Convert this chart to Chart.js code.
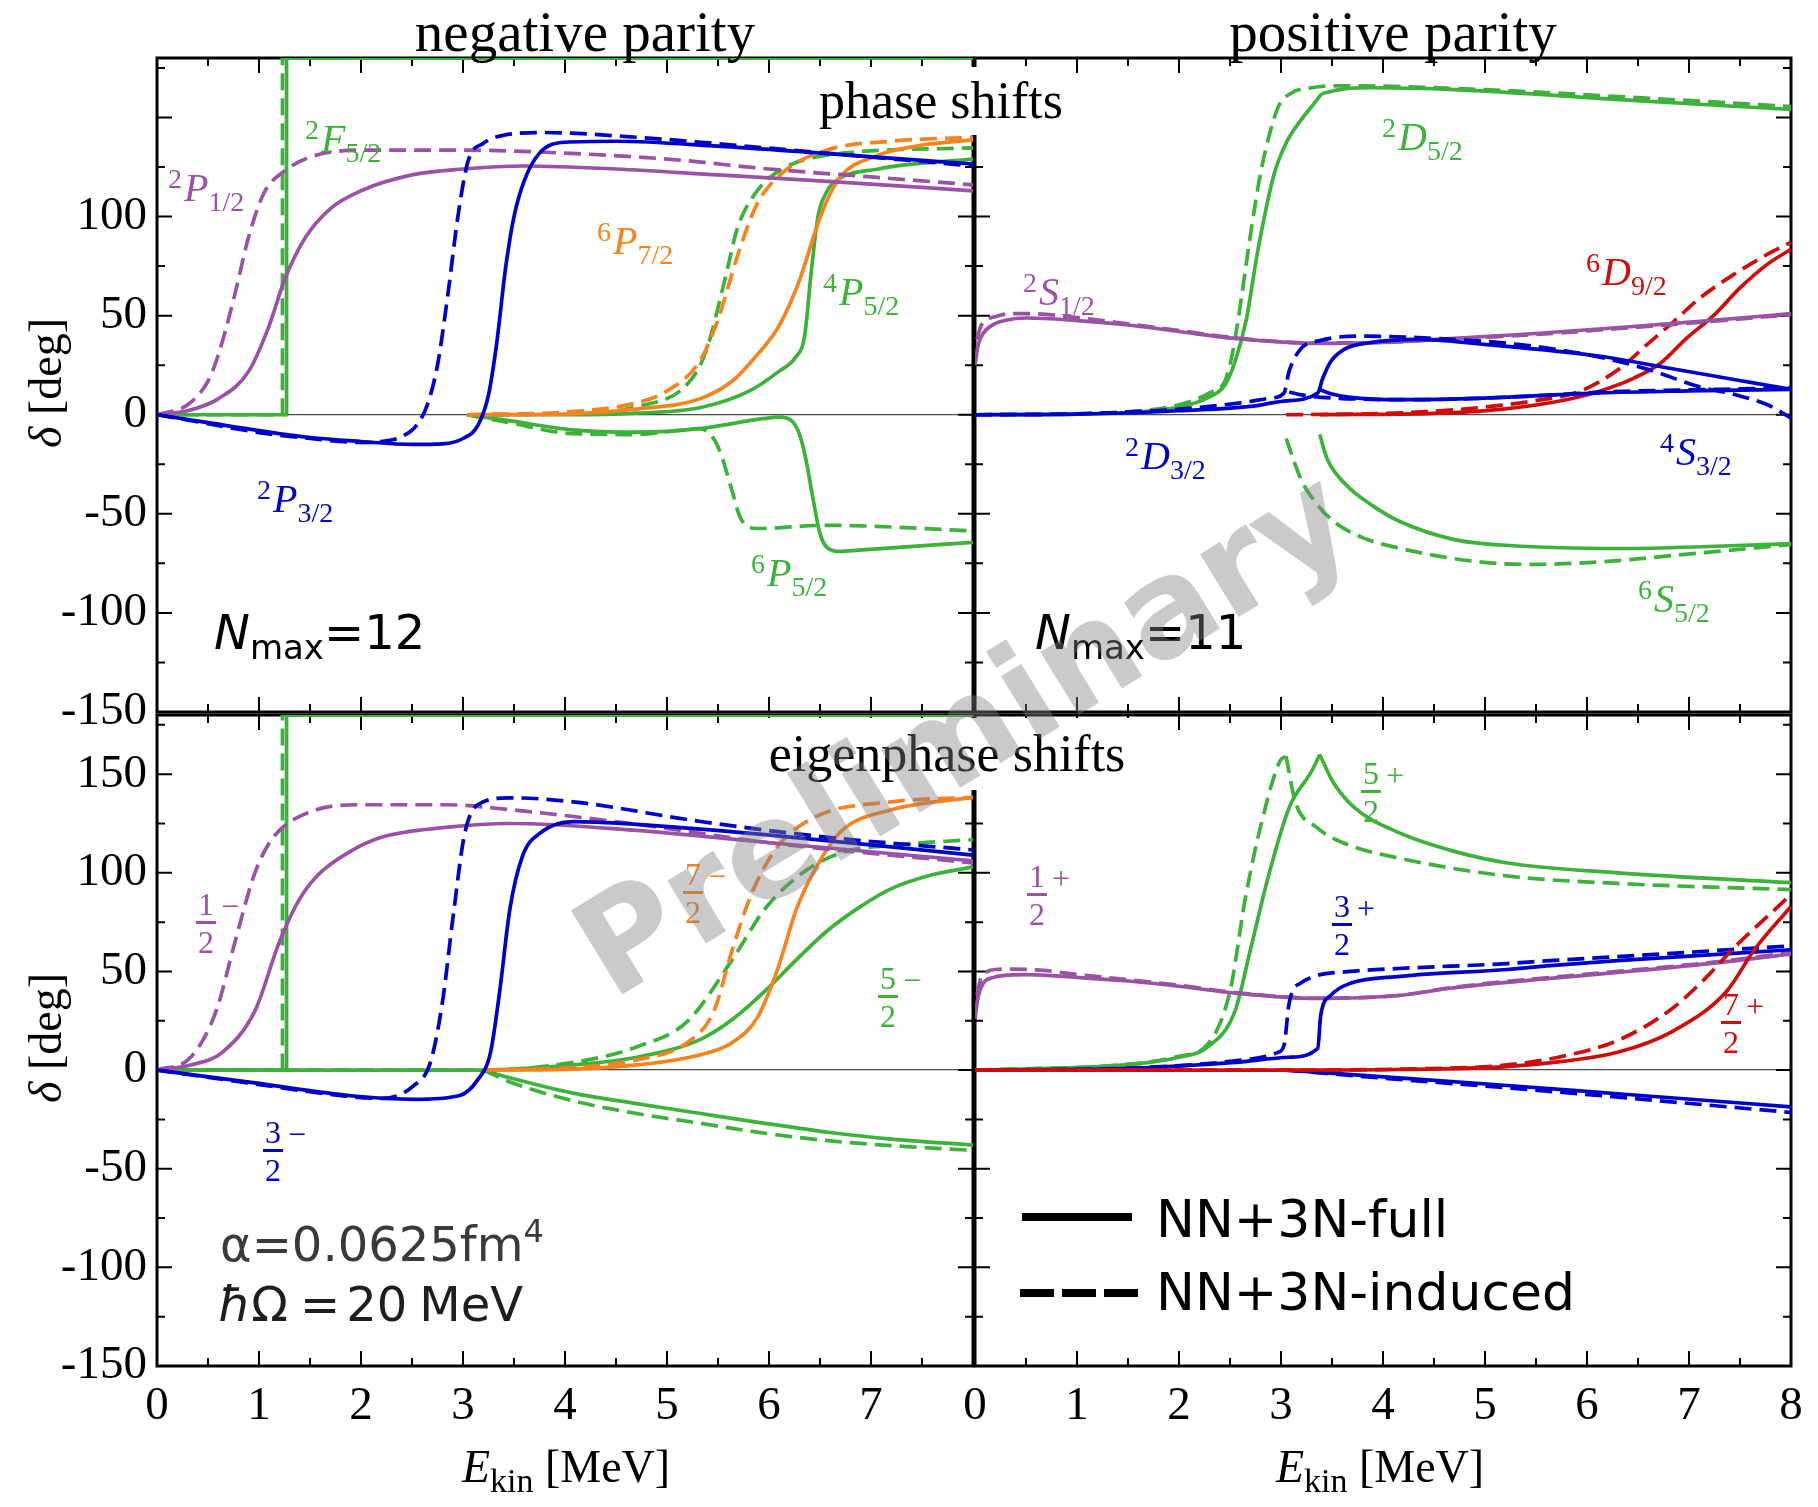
<!DOCTYPE html>
<html>
<head>
<meta charset="utf-8">
<script src="https://cdn.jsdelivr.net/npm/chart.js@4.4.1/dist/chart.umd.min.js"></script>
<style>
body { margin:0; background:#fff; width:1818px; height:1507px; position:relative; overflow:hidden; }
canvas { position:absolute; }
.t { position:absolute; white-space:nowrap; font-family:'Liberation Serif', serif; line-height:1; }
.title { font-size:57px; transform:translate(-50%,-50%); }
.box { font-size:52px; background:#fff; transform:translate(-50%,-50%); padding:0 6px; }
.lab { position:absolute; white-space:nowrap; font-family:'Liberation Serif', serif; font-size:40px; line-height:1; transform:translateY(-50%); }
.lab sup { font-size:28px; vertical-align:baseline; position:relative; top:-0.45em; margin-right:2px; }
.lab sub { font-size:28px; vertical-align:baseline; position:relative; top:0.35em; }
.fr { position:absolute; font-family:'Liberation Serif', serif; font-size:32px; line-height:1; transform:translateY(-50%); white-space:nowrap; }
.fr .f { display:inline-flex; flex-direction:column; align-items:center; vertical-align:middle; }
.fr .n { border-bottom:3px solid currentColor; padding:0 2px 1px 2px; }
.fr .d { padding-top:2px; }
.fr .s { display:inline-block; vertical-align:middle; position:relative; top:-17px; margin-left:5px; font-size:32px; }
.sans { position:absolute; white-space:nowrap; font-family:'DejaVu Sans', sans-serif; font-size:48px; line-height:1; transform:translateY(-50%); }
.sans sub { font-size:34px; vertical-align:baseline; position:relative; top:0.3em; }
.sans sup { font-size:32px; vertical-align:baseline; position:relative; top:-0.6em; }
.ax { position:absolute; white-space:nowrap; font-family:'Liberation Serif', serif; font-size:46px; line-height:1; }
.ax sub { font-size:34px; vertical-align:baseline; position:relative; top:0.3em; }
.wm { position:absolute; left:962px; top:732px; transform:translate(-50%,-50%) rotate(-31.5deg); font-family:'DejaVu Sans', sans-serif; font-weight:bold; font-size:135px; color:rgba(128,128,128,0.42); white-space:nowrap; line-height:1; }
.lg { position:absolute; background:#000; height:8px; }
</style>
</head>
<body>
<canvas id="tl" width="990" height="760" style="left:0px;top:0px;width:990px;height:760px"></canvas>
<canvas id="tr" width="898" height="760" style="left:920px;top:0px;width:898px;height:760px"></canvas>
<canvas id="bl" width="990" height="867" style="left:0px;top:640px;width:990px;height:867px"></canvas>
<canvas id="br" width="898" height="867" style="left:920px;top:640px;width:898px;height:867px"></canvas>

<div class="t title" style="left:585px;top:31px">negative parity</div>
<div class="t title" style="left:1393px;top:31px">positive parity</div>
<div class="t box" style="left:941px;top:101px;line-height:68px">phase shifts</div>
<div class="t box" style="left:947px;top:754px;line-height:72px">eigenphase shifts</div>

<div class="ax" style="left:46px;top:383px;transform:translate(-50%,-50%) rotate(-90deg)"><i>δ</i> [deg]</div>
<div class="ax" style="left:46px;top:1038px;transform:translate(-50%,-50%) rotate(-90deg)"><i>δ</i> [deg]</div>
<div class="ax" style="left:566px;top:1467px;transform:translate(-50%,-50%)"><i>E</i><sub>kin</sub> [MeV]</div>
<div class="ax" style="left:1380px;top:1467px;transform:translate(-50%,-50%)"><i>E</i><sub>kin</sub> [MeV]</div>

<div class="lab" style="left:168px;top:188px;color:#9a52a4"><sup>2</sup><i>P</i><sub>1/2</sub></div>
<div class="lab" style="left:305px;top:139px;color:#3db23a"><sup>2</sup><i>F</i><sub>5/2</sub></div>
<div class="lab" style="left:597px;top:241px;color:#f7831e"><sup>6</sup><i>P</i><sub>7/2</sub></div>
<div class="lab" style="left:823px;top:292px;color:#3db23a"><sup>4</sup><i>P</i><sub>5/2</sub></div>
<div class="lab" style="left:257px;top:499px;color:#0000cd"><sup>2</sup><i>P</i><sub>3/2</sub></div>
<div class="lab" style="left:751px;top:573px;color:#3db23a"><sup>6</sup><i>P</i><sub>5/2</sub></div>
<div class="lab" style="left:1382px;top:137px;color:#3db23a"><sup>2</sup><i>D</i><sub>5/2</sub></div>
<div class="lab" style="left:1023px;top:292px;color:#9a52a4"><sup>2</sup><i>S</i><sub>1/2</sub></div>
<div class="lab" style="left:1586px;top:272px;color:#d10a0a"><sup>6</sup><i>D</i><sub>9/2</sub></div>
<div class="lab" style="left:1125px;top:456px;color:#0000cd"><sup>2</sup><i>D</i><sub>3/2</sub></div>
<div class="lab" style="left:1660px;top:452px;color:#0000cd"><sup>4</sup><i>S</i><sub>3/2</sub></div>
<div class="lab" style="left:1638px;top:599px;color:#3db23a"><sup>6</sup><i>S</i><sub>5/2</sub></div>

<div class="fr" style="left:196px;top:923px;color:#9a52a4"><span class="f"><span class="n">1</span><span class="d">2</span></span><span class="s">−</span></div>
<div class="fr" style="left:263px;top:1151px;color:#0000cd"><span class="f"><span class="n">3</span><span class="d">2</span></span><span class="s">−</span></div>
<div class="fr" style="left:683px;top:893px;color:#f7831e"><span class="f"><span class="n">7</span><span class="d">2</span></span><span class="s">−</span></div>
<div class="fr" style="left:878px;top:997px;color:#3db23a"><span class="f"><span class="n">5</span><span class="d">2</span></span><span class="s">−</span></div>
<div class="fr" style="left:1361px;top:792px;color:#3db23a"><span class="f"><span class="n">5</span><span class="d">2</span></span><span class="s">+</span></div>
<div class="fr" style="left:1027px;top:895px;color:#9a52a4"><span class="f"><span class="n">1</span><span class="d">2</span></span><span class="s">+</span></div>
<div class="fr" style="left:1332px;top:925px;color:#0000cd"><span class="f"><span class="n">3</span><span class="d">2</span></span><span class="s">+</span></div>
<div class="fr" style="left:1721px;top:1023px;color:#d10a0a"><span class="f"><span class="n">7</span><span class="d">2</span></span><span class="s">+</span></div>

<div class="sans" style="left:214px;top:632px"><i>N</i><sub>max</sub>=12</div>
<div class="sans" style="left:1035px;top:632px"><i>N</i><sub>max</sub>=11</div>
<div class="sans" style="left:220px;top:1244px;color:#3a3a3a">α=0.0625fm<sup>4</sup></div>
<div class="sans" style="left:218px;top:1304px;color:#1e1e1e"><i>ħ</i>Ω<span style="margin-left:12px">=</span><span style="margin-left:6px">20</span><span style="margin-left:12px">MeV</span></div>

<div class="lg" style="left:1022px;top:1213px;width:110px"></div>
<div class="lg" style="left:1020px;top:1289px;width:34px"></div>
<div class="lg" style="left:1062px;top:1289px;width:34px"></div>
<div class="lg" style="left:1104px;top:1289px;width:34px"></div>
<div class="sans" style="left:1156px;top:1219px;font-size:52px">NN+3N-full</div>
<div class="sans" style="left:1156px;top:1292px;font-size:52px">NN+3N-induced</div>

<div class="wm">Preliminary</div>

<script>
// tick labels
const xLabelsLeft = [0, 1, 2, 3, 4, 5, 6, 7];
const xLabelsRight = [0, 1, 2, 3, 4, 5, 6, 7, 8];
const yLabelsTop = [-150, -100, -50, 0, 50, 100];
const yLabelsBottom = [-150, -100, -50, 0, 50, 100, 150];

// negative parity, phase shifts  [E_kin MeV, delta deg]
const p12Full = [[0,0],[0.3,2],[0.6,8],[0.9,22],[1.1,45],[1.25,68],[1.45,89],[1.7,104],[2.0,113],[2.5,121],[3.0,124],[3.6,125.5],[4.5,124],[5.5,121],[6.5,118],[8,113]];
const p12Ind = [[0,0],[0.3,5],[0.5,17],[0.6,30],[0.75,58],[0.9,90],[1.05,112],[1.25,123],[1.5,130],[2.0,133.5],[3.0,133.5],[4.0,132],[5.0,129],[6.0,124],[7.0,120],[8,116]];
const f52Full = [[0,0],[1.27,0],[1.2701,180],[8,180]];
const f52Ind = [[0,0],[1.23,0],[1.2301,180],[8,180]];
const p32Full = [[0,0],[0.5,-4],[1,-8],[1.5,-11.5],[2,-13.5],[2.5,-15],[2.8,-14.7],[3.0,-12],[3.15,-5],[3.25,10],[3.33,36],[3.42,75],[3.5,100],[3.6,118],[3.75,132],[4.0,137.5],[4.5,138],[5.5,135.5],[6.5,132],[8,126.5]];
const p32Ind = [[0,0],[0.5,-4.5],[1,-9],[1.5,-12],[2.0,-14],[2.2,-13.5],[2.4,-11],[2.55,-5],[2.65,5],[2.75,25],[2.85,60],[2.95,100],[3.05,128],[3.2,137],[3.4,141],[3.8,142.4],[4.7,140],[6.0,134.5],[8,125.5]];
const p72Full = [[3.04,0],[4.07,0.5],[4.7,2.8],[5.32,8],[5.64,17],[5.86,28.8],[6.1,45],[6.3,68],[6.45,92],[6.55,106],[6.7,120],[7.07,131],[7.5,136],[8,138.7]];
const p72Ind = [[3.04,0],[4.07,1.6],[4.7,6],[5.0,12],[5.32,27],[5.5,48],[5.69,80],[5.88,106],[6.13,122],[6.57,133.6],[7.19,138],[8,140]];
const p52qFull = [[3.04,0],[4.07,0],[4.7,0.8],[5.32,3.5],[5.81,12],[6.1,22],[6.26,29],[6.35,40],[6.41,70],[6.48,100],[6.56,112],[6.63,117],[7.07,124],[8,129]];
const p52qInd = [[3.04,0],[4.07,0.5],[4.7,4],[5.2,15.5],[5.38,31.7],[5.57,68.7],[5.69,94],[5.88,112.7],[6.13,124],[6.57,131],[8,134.7]];
const p52sFull = [[3.04,0],[3.45,-3],[4.07,-7.6],[4.7,-8.8],[5.32,-7],[5.94,-2],[6.1,-1.2],[6.22,-3],[6.3,-10],[6.36,-22],[6.43,-42],[6.5,-60],[6.57,-67],[6.7,-69],[6.88,-68.3],[8,-64.4]];
const p52sInd = [[3.04,0],[3.45,-4],[4.07,-9.5],[4.7,-10],[5.1,-8],[5.32,-7],[5.45,-11.6],[5.53,-20],[5.63,-37],[5.72,-52],[5.88,-57.4],[6.57,-55.8],[8,-58.6]];

// positive parity, phase shifts
const s12Full = [[0,25],[0.03,35],[0.08,41],[0.18,45.5],[0.3,47.7],[0.51,48.8],[1.0,47.5],[1.48,45.4],[2.0,42],[2.55,38.5],[3.36,36],[4.0,36.5],[4.7,38.5],[5.5,41],[6.32,44],[7.2,47.5],[8,51]];
const s12Ind = [[0.02,38],[0.06,45],[0.12,48],[0.2,49.5],[0.35,51],[0.55,51],[1.0,49],[1.48,46],[2.0,42.5],[2.55,38.8],[3.36,36.2],[4.0,36.5],[4.7,38.3],[5.5,40.5],[6.32,43.5],[7.2,47],[8,50.5]];
const d52Rise = [[0,0],[1.0,0.3],[1.48,1],[2.02,4],[2.28,8.5],[2.45,15],[2.55,27],[2.66,48],[2.77,82],[2.93,121],[3.05,137],[3.2,149],[3.3,155.5],[3.4,162]];
const d52Top = [[3.4,162],[3.6,164.3],[3.9,165],[4.7,164],[6.32,159],[8,154]];
const d52Ind = [[0,0],[1.0,0.5],[1.5,1.5],[2.0,5],[2.3,11],[2.45,17],[2.52,30],[2.58,48],[2.71,94],[2.8,122],[2.88,140],[2.97,155],[3.09,162],[3.3,165],[3.63,166],[5,164],[6.5,160],[8,155.5]];
const s52Full = [[3.38,-10],[3.45,-22],[3.63,-35],[3.9,-46],[4.17,-54],[4.7,-63],[5.24,-66],[6.32,-67.5],[7.2,-66.5],[8,-65]];
const s52Ind = [[3.05,-12],[3.2,-33],[3.35,-45],[3.52,-54],[3.8,-62],[4.17,-67.5],[4.97,-74.4],[5.5,-75.5],[6.2,-74],[6.85,-71],[8,-65.5]];
const d32Full = [[0,0],[1.0,0.3],[2.0,2],[2.7,4.2],[3.03,6.9],[3.36,11],[3.41,18.5],[3.49,27],[3.62,33],[3.85,36.2],[4.34,38],[4.99,35.5],[6.13,29.5],[6.78,23.7],[7.44,17.8],[8,12.8]];
const s32Full = [[3.38,12.6],[3.5,10.5],[3.68,8.8],[4.17,7.6],[4.99,8.4],[6.13,11],[7,12],[8,12.8]];
const d32Ind = [[0,0],[1.0,0.5],[2.0,2.8],[2.6,6],[2.9,8.4],[3.03,11],[3.08,22],[3.19,33],[3.39,37.5],[3.78,39.7],[4.34,38.9],[5.32,35.5],[6.13,29],[6.59,23],[7.11,14],[7.44,10.3],[7.77,5],[8,-1.6]];
const s32Ind = [[3.08,11.5],[3.2,10],[3.52,8.4],[4.34,7.6],[5.64,9.9],[6.13,11.4],[7,12.5],[8,13.6]];
const d92Full = [[3.38,0],[4.5,0.7],[5.15,2.7],[5.81,7.7],[6.13,12],[6.46,18.5],[6.72,26],[6.98,38.8],[7.24,50],[7.5,64],[7.77,76],[8,83.5]];
const d92Ind = [[3.05,0],[4.0,0.6],[4.7,2.5],[5.48,7],[5.94,12],[6.33,23.7],[6.59,35.5],[6.85,47],[7.11,59],[7.44,70.8],[7.77,81],[8,87]];

// negative parity, eigenphase shifts
const e12mFull = [[0,0],[0.33,2.6],[0.64,9],[0.96,30],[1.2,65],[1.39,86],[1.58,99],[1.9,111],[2.2,118],[2.83,123],[3.46,125],[4.7,121.5],[5.96,115.5],[8,106]];
const e12mInd = [[0,0],[0.33,6.5],[0.58,30],[0.77,66],[0.96,100],[1.14,118],[1.46,130],[1.96,134.5],[2.83,134.5],[3.46,132],[4.7,124.6],[5.96,115.5],[8,105]];
const e32mFull = [[0,0],[0.96,-6.5],[1.9,-13],[2.52,-14.8],[2.96,-13],[3.14,-5.2],[3.27,9],[3.36,40],[3.46,81.7],[3.58,108],[3.77,120.7],[4.08,126],[4.7,124.6],[5.96,119.4],[8,109]];
const e32mInd = [[0,0],[0.96,-7],[1.9,-13.5],[2.2,-14.3],[2.52,-7.8],[2.68,3.9],[2.8,35],[2.9,76.6],[3.02,120.7],[3.2,136],[3.46,138],[4.08,136],[5.33,126],[6.58,118],[8,111.6]];
const e72mFull = [[3.2,0],[4.08,0.5],[4.7,2.6],[5.33,7.8],[5.64,14],[5.89,27],[6.08,50.5],[6.27,81.7],[6.46,102.5],[6.7,120.7],[7.2,132],[8,138.3]];
const e72mInd = [[3.2,0],[4.08,1.3],[4.7,5.2],[5.2,14],[5.46,30],[5.64,61],[5.83,89.5],[6.08,113],[6.46,128.5],[7.2,136],[8,138.3]];
const e52mFull = [[0,0],[3.2,0],[4.08,2.6],[4.7,6.5],[5.33,15.6],[5.65,26],[5.96,40],[6.27,56],[6.58,71],[6.9,83],[7.2,92],[7.6,99],[8,103]];
const e52mInd = [[0,0],[3.2,0],[4.08,3.9],[4.7,11.7],[5.2,24.7],[5.64,56],[5.96,81.7],[6.33,100],[6.7,110],[7.2,114],[8,116.8]];
const e52mLowFull = [[3.2,0],[3.46,-3.9],[4.08,-11.7],[4.7,-17],[5.33,-22],[5.96,-27],[6.58,-31.5],[7.2,-35],[8,-38]];
const e52mLowInd = [[3.2,0],[3.46,-6],[4.08,-15.6],[4.7,-22],[5.33,-27],[5.96,-32],[6.58,-35.8],[7.2,-38.3],[8,-40.7]];
const e52fFull = [[0,0],[1.27,0],[1.2701,180],[8,180]];
const e52fInd = [[0,0],[1.23,0],[1.2301,180],[8,180]];

// positive parity, eigenphase shifts
const e12pFull = [[0,26],[0.03,37],[0.08,44],[0.18,47],[0.29,48],[0.51,48.4],[1.0,47],[1.47,45.3],[2.0,42.5],[2.55,39],[3.35,36.3],[4.15,37.8],[4.66,41.5],[5.64,46.5],[6.3,49.5],[7.2,54],[8,58.8]];
const e12pInd = [[0.02,38],[0.06,47],[0.12,50],[0.2,51],[0.35,51.2],[0.67,50.5],[1.0,48.5],[1.47,46],[2.0,43],[2.55,39.3],[3.35,36.5],[4.15,37.8],[4.66,41.8],[5.64,47],[6.3,50],[7.2,54.5],[8,59.5]];
const e52pRise = [[0,0],[1.47,2.6],[2.0,6.5],[2.28,11.7],[2.55,30],[2.7,61],[2.87,97],[3.08,133],[3.3,151.5],[3.38,160]];
const e52pFall = [[3.38,160],[3.51,146],[3.72,133],[4.15,120.5],[4.69,111],[5.22,105],[6.3,100],[8,95]];
const e52pRiseInd = [[0,0],[1.5,3],[2.0,7],[2.28,13],[2.5,40],[2.65,87],[2.81,125.6],[2.99,156.7],[3.05,159]];
const e52pFallInd = [[3.05,159],[3.14,136],[3.35,123],[3.62,115],[4.15,107.5],[5.22,98.4],[6.3,94.6],[8,91.5]];
const e32pFull = [[0,0],[1.47,0.8],[2.55,3.9],[3.08,6.5],[3.36,11],[3.39,28],[3.49,38],[3.68,44],[4.17,47.5],[5.22,51],[5.64,53],[6.3,55.5],[8,61]];
const e32pInd = [[0,0],[1.5,1],[2.55,4.7],[2.97,9],[3.03,12.6],[3.08,34],[3.19,44],[3.68,50],[4.15,51.5],[5.22,54],[5.64,55.5],[6.3,57.5],[8,63]];
const e32pLowFull = [[3.05,0],[4.15,-3.9],[5.22,-7.8],[6.3,-12],[8,-18.6]];
const e32pLowInd = [[3.05,0],[4.15,-4.7],[5.22,-9],[6.3,-13.7],[8,-21.5]];
const e72pFull = [[0,0],[3.0,0],[4.15,0.3],[5.22,1.8],[5.76,4.4],[6.3,9],[6.83,19.4],[7.37,40],[7.64,61],[8,83]];
const e72pInd = [[0,0],[3.0,0],[4.15,0.5],[5.22,2.6],[5.76,7],[6.3,15],[6.83,31],[7.15,46],[7.48,64],[7.75,77],[8,89]];

const purple = '#9a52a4', blue = '#0000cd', orange = '#f7831e', green = '#3db23a', red = '#d10a0a';

function line(pts, color, dashed, straight) {
  return {
    data: pts.map(p => ({x: p[0], y: p[1]})),
    borderColor: color,
    borderWidth: 3.7,
    borderDash: dashed ? [17, 8] : [],
    borderCapStyle: 'butt',
    pointRadius: 0,
    pointHoverRadius: 0,
    fill: false,
    tension: 0,
    cubicInterpolationMode: straight ? 'default' : 'monotone'
  };
}

// frame and inward ticks on all four sides, drawn under the curves
const frame = {
  id: 'frame',
  beforeDatasetsDraw(chart) {
    const {ctx, chartArea: a} = chart;
    const x = chart.scales.x, y = chart.scales.y;
    ctx.save();
    ctx.strokeStyle = '#000';
    ctx.lineWidth = 2;
    ctx.beginPath();
    for (let v = 0; v <= 8.001; v += 0.5) {
      const px = x.getPixelForValue(v);
      const len = Number.isInteger(v) ? 15 : 8;
      ctx.moveTo(px, a.bottom); ctx.lineTo(px, a.bottom - len);
      ctx.moveTo(px, a.top); ctx.lineTo(px, a.top + len);
    }
    for (let v = -150; v <= 180; v += 25) {
      const py = y.getPixelForValue(v);
      const len = v % 50 === 0 ? 15 : 8;
      ctx.moveTo(a.left, py); ctx.lineTo(a.left + len, py);
      ctx.moveTo(a.right, py); ctx.lineTo(a.right - len, py);
    }
    ctx.stroke();
    ctx.lineWidth = 3;
    ctx.strokeRect(a.left, a.top, a.right - a.left, a.bottom - a.top);
    ctx.restore();
  }
};

function makeChart(id, sets, o) {
  const font = {family: 'Liberation Serif', size: 47};
  return new Chart(document.getElementById(id), {
    type: 'line',
    data: {datasets: sets},
    options: {
      responsive: false,
      animation: false,
      events: [],
      layout: {padding: {top: o.top, right: o.right, left: 0, bottom: 0}},
      plugins: {legend: {display: false}, tooltip: {enabled: false}},
      scales: {
        x: {
          type: 'linear', min: 0, max: 8,
          border: {display: false},
          grid: {display: false, drawTicks: false},
          ticks: {
            display: !!o.xLabels, stepSize: 1, autoSkip: false, maxRotation: 0,
            padding: 12, color: '#000', font: font,
            callback: v => (o.xLabels && o.xLabels.includes(v)) ? String(v) : null
          },
          afterFit: s => { s.height = o.xH; }
        },
        y: {
          type: 'linear', min: -150, max: 180,
          border: {display: false},
          grid: {
            drawTicks: false,
            lineWidth: 1.3,
            color: c => (c.tick && c.tick.value === 0) ? '#4a4a4a' : 'rgba(0,0,0,0)'
          },
          ticks: {
            display: !!o.yLabels, stepSize: 50, autoSkip: false,
            padding: 10, color: '#000', font: font,
            callback: v => (v === 0 || (o.yLabels && o.yLabels.includes(v))) ? String(v) : null
          },
          afterFit: s => { s.width = o.yW; }
        }
      }
    },
    plugins: [frame]
  });
}

makeChart('tl', [
  line(p32Full, blue, false), line(p32Ind, blue, true),
  line(p12Full, purple, false), line(p12Ind, purple, true),
  line(p72Full, orange, false), line(p72Ind, orange, true),
  line(p52qFull, green, false), line(p52qInd, green, true),
  line(p52sFull, green, false), line(p52sInd, green, true),
  line(f52Full, green, false, true), line(f52Ind, green, true, true)
], {top: 58, right: 17, xH: 48, yW: 157, yLabels: yLabelsTop});

makeChart('tr', [
  line(d32Full, blue, false), line(d32Ind, blue, true),
  line(s32Full, blue, false), line(s32Ind, blue, true),
  line(s12Full, purple, false), line(s12Ind, purple, true),
  line(d92Full, red, false), line(d92Ind, red, true),
  line(d52Rise, green, false), line(d52Top, green, false), line(d52Ind, green, true),
  line(s52Full, green, false), line(s52Ind, green, true)
], {top: 58, right: 27, xH: 48, yW: 55});

makeChart('bl', [
  line(e32mFull, blue, false), line(e32mInd, blue, true),
  line(e12mFull, purple, false), line(e12mInd, purple, true),
  line(e72mFull, orange, false), line(e72mInd, orange, true),
  line(e52mFull, green, false), line(e52mInd, green, true),
  line(e52mLowFull, green, false), line(e52mLowInd, green, true),
  line(e52fFull, green, false, true), line(e52fInd, green, true, true)
], {top: 75, right: 17, xH: 141, yW: 157, xLabels: xLabelsLeft, yLabels: yLabelsBottom});

makeChart('br', [
  line(e72pFull, red, false), line(e72pInd, red, true),
  line(e32pFull, blue, false), line(e32pInd, blue, true),
  line(e32pLowFull, blue, false), line(e32pLowInd, blue, true),
  line(e12pFull, purple, false), line(e12pInd, purple, true),
  line(e52pRise, green, false), line(e52pFall, green, false),
  line(e52pRiseInd, green, true), line(e52pFallInd, green, true)
], {top: 75, right: 27, xH: 141, yW: 55, xLabels: xLabelsRight});
</script>
</body>
</html>
